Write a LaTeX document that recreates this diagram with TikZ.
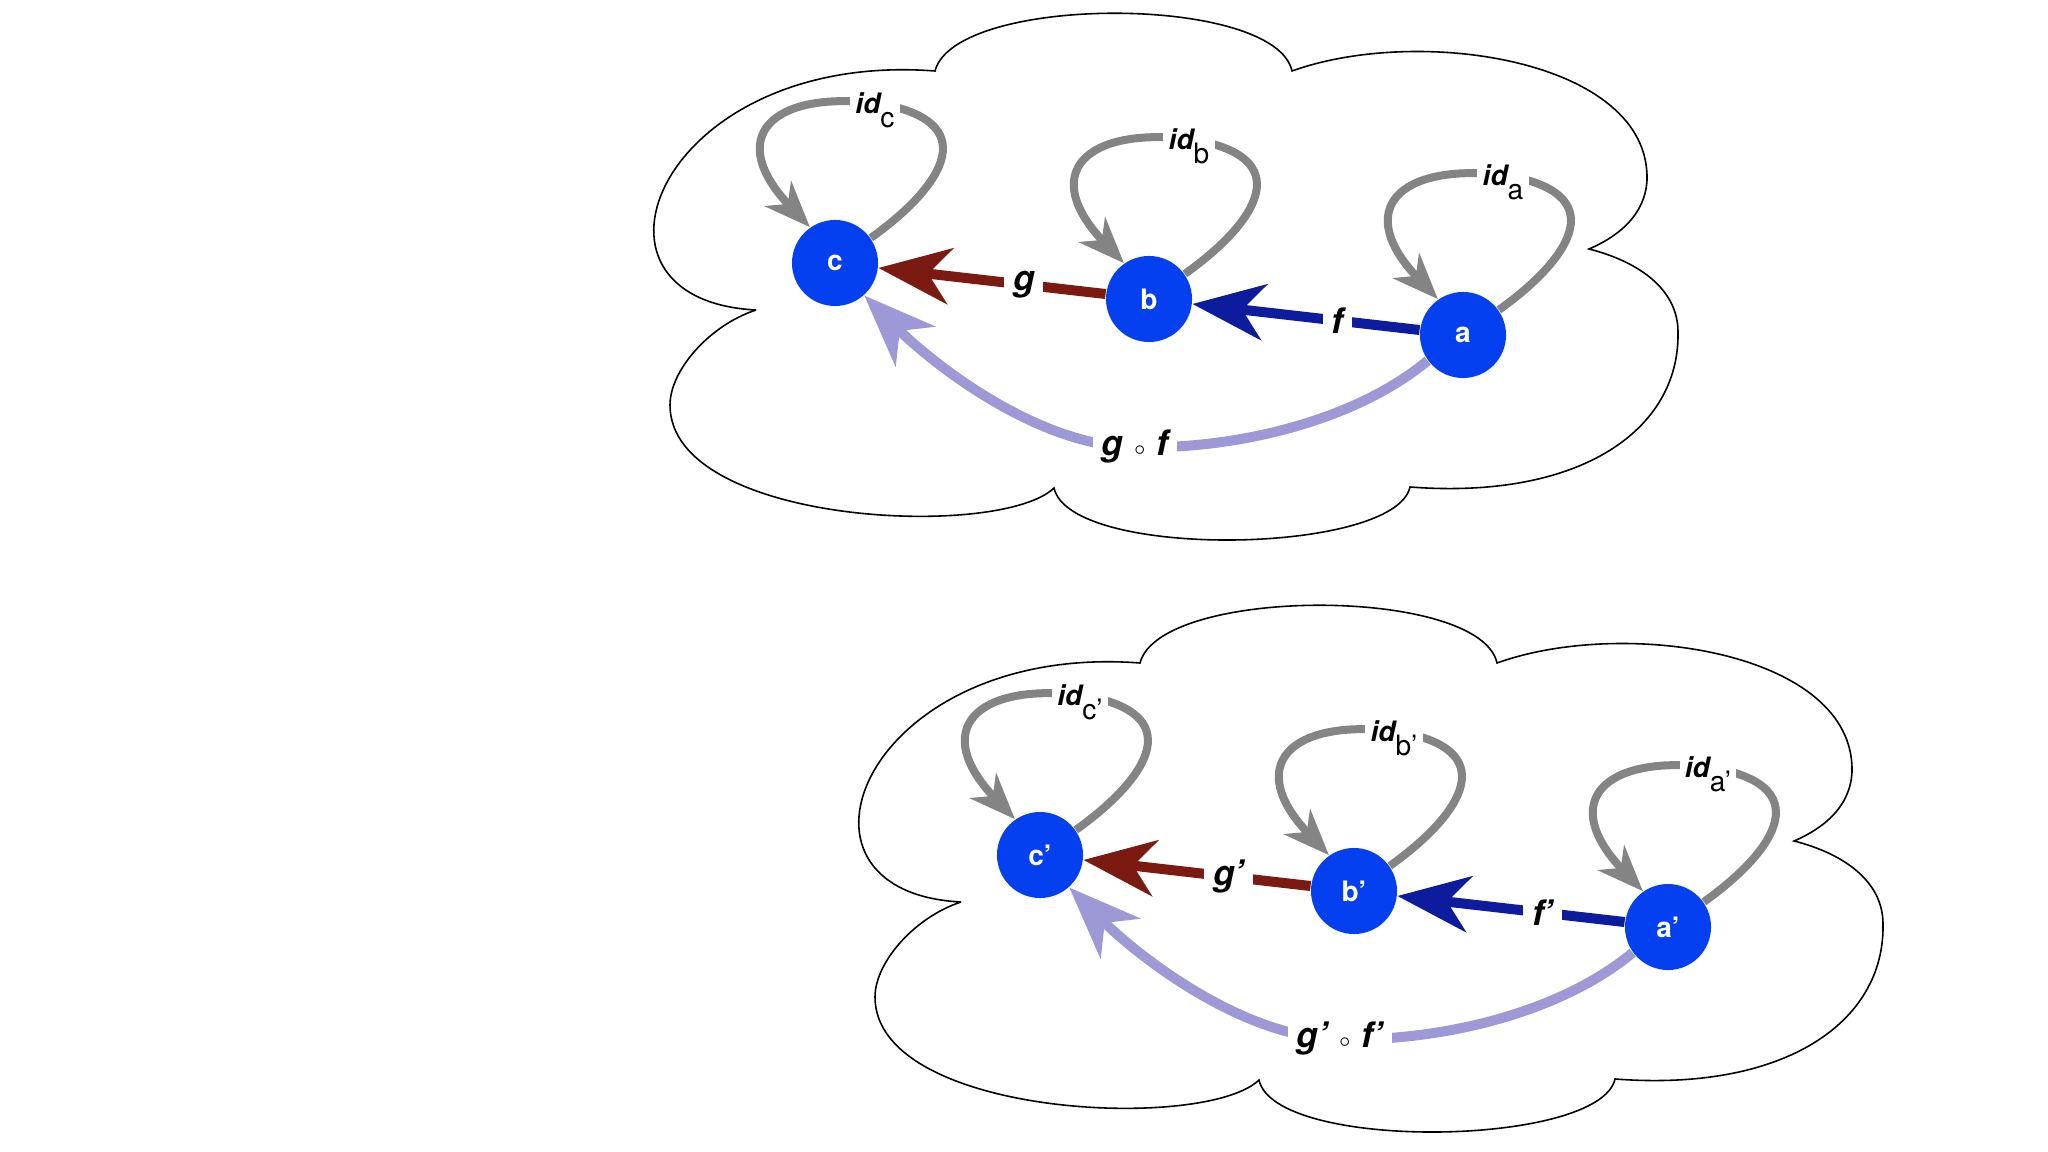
\documentclass[tikz,border=0pt]{standalone}
\usepackage{fontspec}
\setmainfont{TeX Gyre Heros}
\usetikzlibrary{arrows.meta,calc}
\definecolor{objblue}{HTML}{0540F0}
\definecolor{idgray}{HTML}{848484}
\definecolor{gred}{HTML}{7A1A10}
\definecolor{fblue}{HTML}{0C1C9C}
\definecolor{gflilac}{HTML}{9D99D6}
\tikzset{
  obj/.style={circle, fill=objblue, minimum size=0.86cm, inner sep=0pt,
    text=white, font=\fontsize{8}{9}\selectfont\bfseries},
  cloudline/.style={draw=black, line width=0.45pt},
  idarr/.style={draw=idgray, line width=0.08cm,
    -{Stealth[length=0.46cm, width=0.36cm, inset=0.14cm]}},
  marr/.style={line width=0.1cm, -{Stealth[length=0.72cm, width=0.56cm, inset=0.22cm]}},
  garr/.style={marr, draw=gred},
  farr/.style={marr, draw=fblue},
  gfarr/.style={marr, draw=gflilac},
  lbl/.style={fill=white, inner sep=2.5pt, font=\fontsize{10}{12}\selectfont\bfseries\itshape},
  idlbl/.style={fill=white, inner sep=1.5pt, yshift=-2pt,
    font=\fontsize{8}{9}\selectfont\bfseries\itshape}
}
% identity loop over a node: #1 node, #2 subscript
\newcommand\idloop[2]{%
  \draw[idarr] (#1.35) .. controls ($(#1)+(110,-78)$) and ($(#1)+(150,-143)$) .. ($(#1)+(40,-160)$)
    node[idlbl] {id\raisebox{-4pt}{\fontsize{8}{9}\selectfont\mdseries\upshape #2}}
    .. controls ($(#1)+(-65,-172)$) and ($(#1)+(-110,-125)$) .. (#1.125);
}

\begin{document}
\begin{tikzpicture}[x=0.01cm, y=-0.01cm]
  \useasboundingbox (0,0) rectangle (2048,1152);
  \foreach \dx/\dy/\n/\p in {0/0/1/{}, 205/592/2/{’}}{
    \begin{scope}[shift={(\dx,\dy)}]
      % the cloud round the category
      \draw[cloudline] (756,310) .. controls (560,300) and (660,50) .. (935,71)
        .. controls (955,-6) and (1275,-6) .. (1292,71)
        .. controls (1420,25) and (1650,60) .. (1647,180)
        .. controls (1645,220) and (1610,240) .. (1589,249)
        .. controls (1640,262) and (1678,290) .. (1678,332)
        .. controls (1680,430) and (1580,500) .. (1410,487)
        .. controls (1395,555) and (1070,560) .. (1054,488)
        .. controls (1000,540) and (670,525) .. (670,405)
        .. controls (670,370) and (710,325) .. (756,310);
      \node[obj] (c\n) at (835,263) {c\p};
      \node[obj] (b\n) at (1149,299) {b\p};
      \node[obj] (a\n) at (1463,335) {a\p};
      \idloop{c\n}{c\p}
      \idloop{b\n}{b\p}
      \idloop{a\n}{a\p}
      \draw[garr] (b\n) -- node[lbl, pos=0.36] {g\p} (c\n);
      \draw[farr] (a\n) -- node[lbl, pos=0.36] {f\p} (b\n);
      \draw[gfarr] (a\n.216) .. controls (1350,425) and (1225,450) .. (1135,447)
        node[lbl] {g\p\hspace{3pt}\raisebox{0.5pt}{\fontsize{4}{4}\selectfont$\circ$}\hspace{3pt}f\p}
        .. controls (1040,447) and (935,366) .. (c\n.-48);
    \end{scope}
  }
\end{tikzpicture}
\end{document}
